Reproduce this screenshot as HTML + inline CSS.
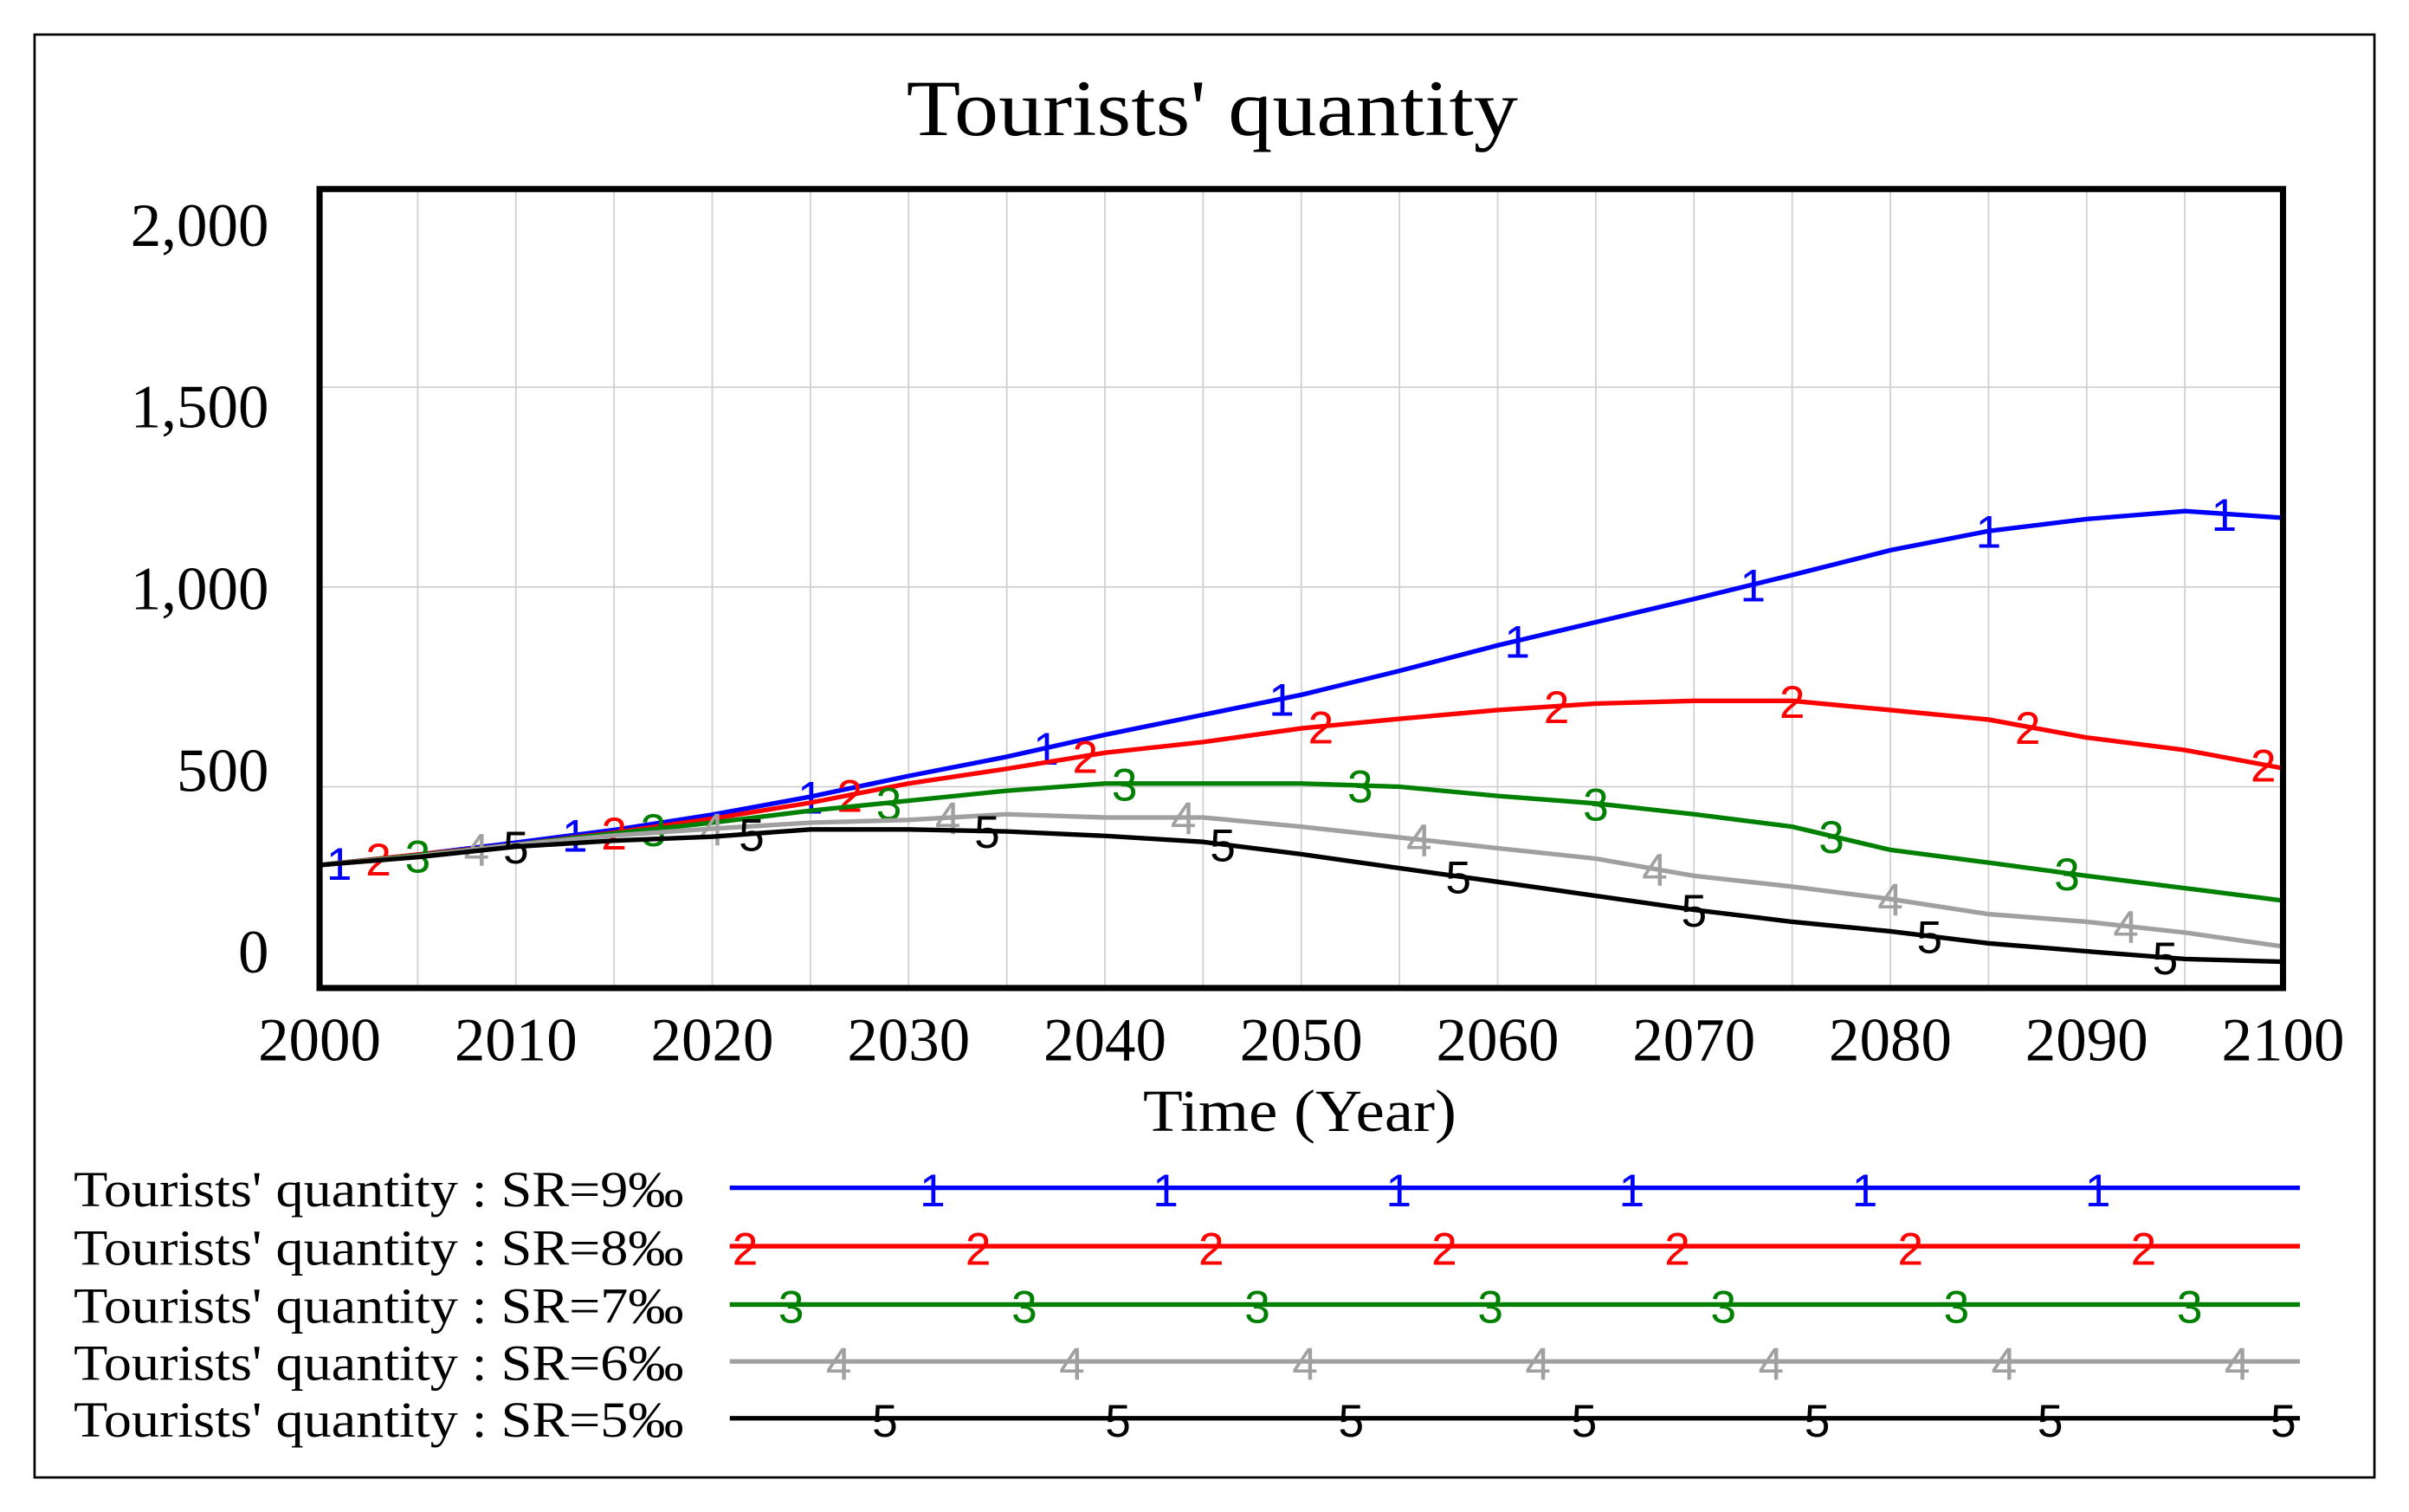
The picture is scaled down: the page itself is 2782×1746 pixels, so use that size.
<!DOCTYPE html>
<html><head><meta charset="utf-8"><style>
html,body{margin:0;padding:0;background:#fff;}
svg{display:block;}
text{font-family:"Liberation Serif",serif;}
.mk{font-family:"Liberation Sans",sans-serif;}
</style></head><body>
<svg id="chart" width="2782" height="1746" viewBox="0 0 1568 984" preserveAspectRatio="none" xmlns="http://www.w3.org/2000/svg">
<rect x="22.5" y="22.5" width="1523" height="939" fill="#fff" stroke="#000" stroke-width="1.5"/>
<text x="789" y="88" font-size="52" text-anchor="middle" textLength="398" lengthAdjust="spacingAndGlyphs">Tourists' quantity</text>
<g id="grid"></g>
<g id="series"></g>
<rect x="208" y="123" width="1278" height="520" fill="none" stroke="#000" stroke-width="4"/>
<g id="axes"></g>
<text x="846" y="736" font-size="39" text-anchor="middle" textLength="204" lengthAdjust="spacingAndGlyphs">Time (Year)</text>
<g id="legend"></g>
</svg>
<script>
const years=[2000,2005,2010,2015,2020,2025,2030,2035,2040,2045,2050,2055,2060,2065,2070,2075,2080,2085,2090,2095,2100];
const sr9=[304,330,360,392,430,475,527,575,630,680,730,790,854,912,970,1030,1092,1140,1170,1190,1173];
const sr8=[304,330,355,385,420,460,508,545,585,612,646,670,692,708,715,715,692,668,623,592,546];
const sr7=[304,328,355,383,410,440,465,490,508,508,508,500,477,458,431,400,342,310,277,246,215];
const sr6=[304,326,355,378,395,410,417,431,423,423,400,373,346,320,277,250,219,181,162,135,100];
const sr5=[304,324,350,365,375,393,393,388,377,362,331,296,262,227,192,162,138,108,88,69,62];
const seriesList=[sr9,sr8,sr7,sr6,sr5];
const seriesNames=['sr-9','sr-8','sr-7','sr-6','sr-5'];
const seriesLabels=["Tourists' quantity : SR=9‰","Tourists' quantity : SR=8‰","Tourists' quantity : SR=7‰","Tourists' quantity : SR=6‰","Tourists' quantity : SR=5‰"];
const markerStart=[2001,2003,2005,2008,2010];
const colors=['#0000ff','#ff0000','#008000','#a0a0a0','#000000'];
const yTicks=[0,500,1000,1500,2000];
const yTickLabels=['0','500','1,000','1,500','2,000'];
const xTicks=[2000,2010,2020,2030,2040,2050,2060,2070,2080,2090,2100];

const NS='http://www.w3.org/2000/svg';
const X0=208,X1=1486,Y0=642,Y1=122;
function xs(t){return X0+(t-2000)/100*(X1-X0);}
function ys(v){return Y0-v/2000*(Y0-Y1);}
function ylab(v){return 620-v/2000*473;}
function mk(tag,attrs,parent){const e=document.createElementNS(NS,tag);for(const k in attrs)e.setAttribute(k,attrs[k]);parent.appendChild(e);return e;}
function interp(arr,t){for(let i=0;i<years.length-1;i++){if(t<=years[i+1]){const f=(t-years[i])/(years[i+1]-years[i]);return arr[i]+f*(arr[i+1]-arr[i]);}}return arr[arr.length-1];}

const grid=document.getElementById('grid');
for(let t=2005;t<2100;t+=5){const l=mk('line',{x1:xs(t),x2:xs(t),y1:Y1,y2:Y0+1,stroke:'#d0d0d0','stroke-width':1},grid);

}
for(const v of yTicks){if(v===0||v===2000)continue;const l=mk('line',{x1:X0,x2:X1,y1:ys(v),y2:ys(v),stroke:'#d0d0d0','stroke-width':1},grid);

}

const axes=document.getElementById('axes');
yTicks.forEach((v,i)=>{const t=mk('text',{x:175,y:ylab(v)+13,'font-size':40,'text-anchor':'end'},axes);t.textContent=yTickLabels[i];

});
xTicks.forEach(v=>{const t=mk('text',{x:xs(v),y:690,'font-size':40,'text-anchor':'middle'},axes);t.textContent=String(v);

});

const sg=document.getElementById('series');
seriesList.forEach((arr,si)=>{
 const pts=years.map((t,i)=>xs(t).toFixed(1)+','+ys(arr[i]).toFixed(1)).join(' ');
 const p=mk('polyline',{points:pts,fill:'none',stroke:colors[si],'stroke-width':3},sg);
 
 
 for(let t=markerStart[si];t<=2100;t+=12){
  const m=mk('text',{x:xs(t),y:ys(interp(arr,t))+11,'font-size':30,'text-anchor':'middle',fill:colors[si],class:'mk'},sg);
  m.textContent=String(si+1);
  
  
 }
});

const lg=document.getElementById('legend');
const rowY=[773,811,849,886,923];
const legMarkStart=[607,485,515,546,576];
seriesLabels.forEach((s,i)=>{
 const t=mk('text',{x:48,y:rowY[i]+12,'font-size':33,textLength:397,lengthAdjust:'spacingAndGlyphs'},lg);
 t.textContent=s;
 
 
 const l=mk('line',{x1:475,x2:1497,y1:rowY[i],y2:rowY[i],stroke:colors[i],'stroke-width':3},lg);
 
 
 for(let x=legMarkStart[i];x<=1490;x+=151.7){
  const m=mk('text',{x:x,y:rowY[i]+12,'font-size':30,'text-anchor':'middle',fill:colors[i],class:'mk'},lg);
  m.textContent=String(i+1);
  
  
 }
});
</script>
</body></html>
